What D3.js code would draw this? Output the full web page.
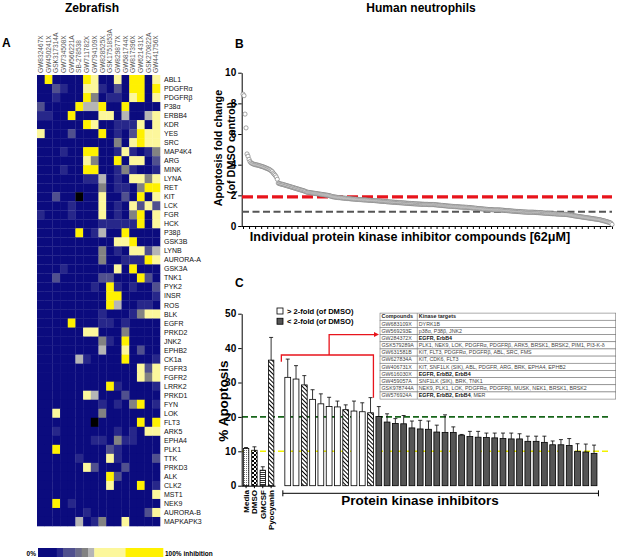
<!DOCTYPE html>
<html>
<head>
<meta charset="utf-8">
<script src="https://cdn.jsdelivr.net/npm/d3@7"></script>
<style>
  body { margin: 0; background: #fff; }
  svg text { font-family: "Liberation Sans", Arial, sans-serif; }
</style>
</head>
<body>
<svg id="fig" width="617" height="558"></svg>
<script>
// ---------- panel A : zebrafish screen ----------
const compounds = ["GW832467X","GW450241X","GSK317314A","GW734508X","GW566221A","SB-278538",
  "GW711782X","GW794109X","GW828525X","GSK1751853A","GW829877X","GW581744X","GW817396X",
  "GW621431X","GSK270822A","GW441756X"];
const kinases = ["ABL1","PDGFRα","PDGFRβ","P38α","ERBB4","KDR","YES","SRC","MAP4K4","ARG","MINK",
  "LYNA","RET","KIT","LCK","FGR","HCK","P38β","GSK3B","LYNB","AURORA-A","GSK3A","TNK1","PYK2",
  "INSR","ROS","BLK","EGFR","PRKD2","JNK2","EPHB2","CK1a","FGFR3","FGFR2","LRRK2","PRKD1","FYN",
  "LOK","FLT3","ARK5","EPHA4","PLK1","TTK","PRKD3","ALK","CLK2","MST1","NEK9","AURORA-B","MAPKAPK3"];
// one string per kinase, one char per compound: inhibition in tenths, x = no value
const inhibition = [
  "0800008600608806","0021006610208808","0010008401106806","2000085580080000","1100800066050056",
  "0000008600111606","6000200080102866","0000000000406866","0001008800161014","0000006400806602",
  "0001008800141001","0000001150106646","0000000040110488","00200x0060020806","0000100060106262",
  "1000100060104806","0000000011111806","0000080150080000","0000000000668000","0000000040106625",
  "0000000040011186","0001000000608000","0020000022000820","0000000108101002","0000000008800001",
  "0000000008500110","0000000010001466","0000800011010000","0000006600040000","0000000041080000",
  "0000000050060200","0000051000080001","0000000000000626","0000000000000646","0000000008100001",
  "0000006500020000","0000000010104801","0060000040000000","0000000x00000808","0010000000101066",
  "0000000110411000","0080000002100000","0000010006100002","0000006200020000","0000000008200000",
  "0000000006000801","0000000000000006","0080100000000000","0000001000000026","0000050140060000"];
const legendStops = [0, 15, 20, 30, 35, 40, 45, 70, 100];
const legendLevels = ["0","1","2","3","4","5","6","8"];

// ---------- panel B : neutrophil screen ----------
const foldChange = [
  8.6,8.5,7.3,6.4,4.7,4.55,4.35,4.2,4.12,4.08,
  4.05,4.02,4.0,3.99,3.98,3.96,3.94,3.92,3.9,3.88,
  3.86,3.83,3.8,3.78,3.75,3.72,3.69,3.65,3.6,3.55,
  3.45,3.38,3.3,3.2,3.05,2.8,2.77,2.75,2.73,2.72,
  2.7,2.68,2.66,2.64,2.62,2.6,2.58,2.56,2.54,2.52,
  2.5,2.48,2.46,2.44,2.42,2.4,2.38,2.36,2.34,2.32,
  2.3,2.28,2.25,2.22,2.2,2.19,2.18,2.17,2.16,2.15,
  2.14,2.13,2.12,2.11,2.1,2.09,2.08,2.07,2.06,2.05,
  2.04,2.03,2.02,2.01,2.0,1.99,1.97,1.95,1.93,1.91,
  1.9,1.89,1.88,1.87,1.86,1.85,1.85,1.84,1.83,1.83,
  1.82,1.81,1.81,1.8,1.79,1.79,1.78,1.77,1.77,1.76,
  1.76,1.75,1.75,1.74,1.74,1.73,1.72,1.72,1.71,1.71,
  1.7,1.7,1.7,1.69,1.69,1.68,1.68,1.67,1.67,1.66,
  1.66,1.65,1.65,1.64,1.64,1.63,1.62,1.62,1.61,1.61,
  1.6,1.6,1.59,1.58,1.58,1.57,1.57,1.56,1.56,1.55,
  1.55,1.54,1.54,1.53,1.53,1.52,1.52,1.51,1.51,1.5,
  1.5,1.49,1.49,1.48,1.48,1.47,1.47,1.46,1.46,1.45,
  1.45,1.44,1.44,1.44,1.43,1.43,1.43,1.42,1.42,1.42,
  1.41,1.41,1.41,1.41,1.4,1.4,1.4,1.4,1.4,1.4,
  1.39,1.38,1.38,1.37,1.36,1.36,1.35,1.34,1.34,1.33,
  1.32,1.32,1.31,1.3,1.3,1.29,1.29,1.28,1.28,1.27,
  1.27,1.26,1.26,1.25,1.25,1.24,1.24,1.23,1.23,1.23,
  1.22,1.22,1.22,1.21,1.2,1.2,1.19,1.18,1.18,1.17,
  1.16,1.16,1.15,1.14,1.14,1.13,1.12,1.12,1.11,1.1,
  1.1,1.09,1.09,1.08,1.08,1.07,1.07,1.06,1.06,1.05,
  1.05,1.05,1.05,1.05,1.05,1.04,1.04,1.03,1.03,1.02,
  1.01,1.01,1.0,1.0,0.99,0.99,0.98,0.97,0.97,0.96,
  0.96,0.95,0.95,0.94,0.94,0.93,0.93,0.92,0.92,0.91,
  0.91,0.91,0.9,0.9,0.9,0.9,0.9,0.9,0.9,0.89,
  0.89,0.88,0.88,0.87,0.87,0.86,0.86,0.85,0.85,0.84,
  0.84,0.83,0.83,0.82,0.82,0.81,0.81,0.8,0.8,0.8,
  0.79,0.79,0.78,0.78,0.78,0.77,0.77,0.77,0.76,0.76,
  0.76,0.75,0.74,0.73,0.72,0.71,0.7,0.69,0.67,0.66,
  0.65,0.64,0.63,0.62,0.61,0.6,0.59,0.58,0.57,0.56,
  0.55,0.54,0.53,0.52,0.51,0.5,0.49,0.48,0.47,0.46,
  0.45,0.44,0.43,0.42,0.41,0.39,0.37,0.35,0.34,0.32,
  0.3,0.28,0.26,0.24,0.22,0.18,0.1];
const foldCutoff = 1.9;
const foldBaseline = 0.93;

// ---------- panel C : % apoptosis ----------
const controls = ["Media","DMSO","GMCSF","Pyocyanin"];
const controlMean = [10.8, 10.3, 4.5, 36.5];
const controlErr = [0.3, 1.0, 1.0, 6.6];
const inhibitorMean = [31.5,31.0,29.3,25.1,23.8,23.0,22.9,22.1,21.7,21.5,21.2,
  20.1,18.5,18.1,18.0,16.8,16.5,16.4,15.6,15.5,15.5,14.7,14.3,14.1,14.0,13.9,13.7,
  13.6,13.6,12.9,12.9,12.6,11.9,11.9,11.7,10.0,9.8,9.4];
const inhibitorErr = [5.3,3.9,2.7,2.8,2.9,2.7,1.7,1.4,2.9,2.6,4.4,
  2.9,2.4,1.4,2.4,2.0,2.5,2.4,2.0,5.1,1.6,0.2,1.5,1.7,1.3,1.4,1.6,
  1.7,1.5,1.5,1.5,1.8,1.1,1.5,2.0,2.2,2.3,2.4];
const inhibitorKind = ["open","open","hatch","open","open","open","open","hatch","open","open","hatch",
  "dark","dark","dark","dark","dark","dark","dark","dark","dark","dark","dark","dark","dark","dark",
  "dark","dark","dark","dark","dark","dark","dark","dark","dark","dark","dark","dark","dark"];
const greenLine = 20;
const yellowLine = 10;
const tableCompounds = ["GW683109X","GW569293E","GW284372X","GSK579289A","GW631581B","GW627834A",
  "GW406731X","GW616030X","GW459057A","GSK978744A","GW576924A"];
// [bold part, plain part]
const tableTargets = [
  ["","DYRK1B"],["","p38α, P38β, JNK2"],["EGFR, ErbB4",""],
  ["","PLK1, NEK9, LOK, PDGFRα, PDGFRβ, ARK5, BRSK1, BRSK2, PIM1, PI3-K-δ"],
  ["","KIT, FLT3, PDGFRα, PDGFRβ, ABL, SRC, FMS"],["","KIT, CDK6, FLT3"],
  ["","KIT, SNF1LK (SIK), ABL, PDGFR, ARG, BRK, EPHA4, EPHB2"],["EGFR, ErbB2, ErbB4",""],
  ["","SNF1LK (SIK), BRK, TNK1"],["","NEK9, PLK1, LOK,  PDGFRα, PDGFRβ, MUSK, NEK1, BRSK1, BRSK2"],
  ["EGFR, ErbB2, ErbB4",", MER"]];
const legendC = ["> 2-fold (of DMSO)", "< 2-fold (of DMSO)"];

const heatColor = {"0":"#0b0b7e","1":"#27278a","2":"#50508e","3":"#6c6c88","4":"#828282",
  "5":"#b5b5b5","6":"#fcf79c","8":"#fff100","x":"#000000"};

const svg = d3.select("#fig");
svg.append("rect").attr("width", 617).attr("height", 558).attr("fill", "#fff");

// patterns
const defs = svg.append("defs");
const hatch = defs.append("pattern").attr("id", "hatch").attr("width", 3).attr("height", 3)
  .attr("patternUnits", "userSpaceOnUse").attr("patternTransform", "rotate(-45)");
hatch.append("rect").attr("width", 3).attr("height", 3).attr("fill", "#fff");
hatch.append("line").attr("x1", 0.5).attr("x2", 0.5).attr("y1", 0).attr("y2", 3)
  .attr("stroke", "#000").attr("stroke-width", 1);
const dots = defs.append("pattern").attr("id", "dots").attr("width", 2).attr("height", 2)
  .attr("patternUnits", "userSpaceOnUse");
dots.append("rect").attr("width", 2).attr("height", 2).attr("fill", "#fff");
dots.append("rect").attr("width", 1).attr("height", 1).attr("fill", "#777");
const checker = defs.append("pattern").attr("id", "checker").attr("width", 4).attr("height", 4)
  .attr("patternUnits", "userSpaceOnUse");
checker.append("rect").attr("width", 4).attr("height", 4).attr("fill", "#fff");
checker.append("rect").attr("width", 2).attr("height", 2).attr("fill", "#000");
checker.append("rect").attr("x", 2).attr("y", 2).attr("width", 2).attr("height", 2).attr("fill", "#000");
const hstripe = defs.append("pattern").attr("id", "hstripe").attr("width", 2).attr("height", 2)
  .attr("patternUnits", "userSpaceOnUse");
hstripe.append("rect").attr("width", 2).attr("height", 2).attr("fill", "#fff");
hstripe.append("rect").attr("width", 2).attr("height", 0.8).attr("fill", "#000");

// titles
svg.append("text").attr("x", 92).attr("y", 12).attr("text-anchor", "middle")
  .attr("font-size", 12).attr("font-weight", "bold").text("Zebrafish");
svg.append("text").attr("x", 421).attr("y", 12).attr("text-anchor", "middle")
  .attr("font-size", 12).attr("font-weight", "bold").text("Human neutrophils");
svg.append("text").attr("x", 2).attr("y", 47).attr("font-size", 12).attr("font-weight", "bold").text("A");
svg.append("text").attr("x", 235).attr("y", 48).attr("font-size", 12).attr("font-weight", "bold").text("B");
svg.append("text").attr("x", 235).attr("y", 287).attr("font-size", 12).attr("font-weight", "bold").text("C");

// ---------- heatmap ----------
const xA = d3.scaleBand().domain(compounds).range([37, 160]);
const yA = d3.scaleBand().domain(kinases).range([75, 526]);
const cells = [];
kinases.forEach((k, i) => {
  compounds.forEach((c, j) => cells.push({k, c, v: inhibition[i][j]}));
});
svg.append("g").selectAll("rect").data(cells).join("rect")
  .attr("x", d => xA(d.c)).attr("y", d => yA(d.k))
  .attr("width", xA.bandwidth() + 0.3).attr("height", yA.bandwidth() + 0.3)
  .attr("fill", d => heatColor[d.v]);
svg.append("g").selectAll("text").data(compounds).join("text")
  .attr("transform", d => `translate(${xA(d) + xA.bandwidth() / 2 + 2.2},73) rotate(-90)`)
  .attr("font-size", 6.6).attr("fill", "#555").text(d => d);
svg.append("g").selectAll("text").data(kinases).join("text")
  .attr("x", 164).attr("y", d => yA(d) + yA.bandwidth() / 2 + 2.5)
  .attr("font-size", 7).attr("fill", "#111").text(d => d);

// legend bar
const xLeg = d3.scaleLinear().domain([0, 100]).range([38, 163]);
svg.append("g").selectAll("rect").data(legendLevels).join("rect")
  .attr("x", (d, i) => xLeg(legendStops[i])).attr("y", 548)
  .attr("width", (d, i) => xLeg(legendStops[i + 1]) - xLeg(legendStops[i]) + 0.3)
  .attr("height", 9).attr("fill", d => heatColor[d]);
svg.append("text").attr("x", 36).attr("y", 555.5).attr("text-anchor", "end")
  .attr("font-size", 6.5).attr("font-weight", "bold").text("0%");
svg.append("text").attr("x", 165).attr("y", 555.5)
  .attr("font-size", 6.5).attr("font-weight", "bold").text("100% inhibition");

// ---------- panel B ----------
const xB = d3.scaleLinear().domain([0, foldChange.length - 1]).range([243, 612]);
const yB = d3.scaleLinear().domain([0, 10]).range([226, 72.7]);
const axB = svg.append("g").attr("transform", "translate(241.7,0)")
  .call(d3.axisLeft(yB).tickValues([0, 2, 4, 6, 8, 10]).tickSize(3.5).tickSizeOuter(0));
axB.selectAll("text").attr("font-size", 10).attr("font-weight", "bold").attr("font-family", null).attr("dx", 1);
const axBx = svg.append("g").attr("transform", "translate(0,226)")
  .call(d3.axisBottom(xB).tickValues(d3.range(0, foldChange.length, 6)).tickFormat("").tickSize(3).tickSizeOuter(0));
axBx.select(".domain").attr("d", "M241.7,0.5H613");
svg.append("line").attr("x1", 242).attr("x2", 612).attr("y1", yB(foldCutoff)).attr("y2", yB(foldCutoff))
  .attr("stroke", "#e8141c").attr("stroke-width", 3.3).attr("stroke-dasharray", "11,4");
svg.append("line").attr("x1", 242).attr("x2", 612).attr("y1", yB(foldBaseline)).attr("y2", yB(foldBaseline))
  .attr("stroke", "#555").attr("stroke-width", 1.8).attr("stroke-dasharray", "7,3.5");
svg.append("g").selectAll("circle").data(foldChange).join("circle")
  .attr("cx", (d, i) => xB(i)).attr("cy", d => yB(d)).attr("r", 2.1)
  .attr("fill", "#fff").attr("stroke", "#808080").attr("stroke-width", 0.7);
svg.append("text").attr("transform", "translate(222,148) rotate(-90)").attr("text-anchor", "middle")
  .attr("font-size", 10.8).attr("font-weight", "bold").text("Apoptosis fold change");
svg.append("text").attr("transform", "translate(235,148) rotate(-90)").attr("text-anchor", "middle")
  .attr("font-size", 10.8).attr("font-weight", "bold").text("(of DMSO control)");
svg.append("text").attr("x", 410).attr("y", 241).attr("text-anchor", "middle")
  .attr("font-size", 12.6).attr("font-weight", "bold").text("Individual protein kinase inhibitor compounds [62μM]");

// ---------- panel C ----------
const yC = d3.scaleLinear().domain([0, 50]).range([485.7, 313.7]);
const xCtl = d3.scaleBand().domain(controls).range([241.7, 275.5]).paddingInner(0.35).paddingOuter(0.2);
const xInh = d3.scaleBand().domain(d3.range(inhibitorMean.length)).range([283.6, 598.2])
  .paddingInner(0.3).paddingOuter(0.15);

// reference lines
svg.append("line").attr("x1", 242).attr("x2", 610).attr("y1", yC(greenLine)).attr("y2", yC(greenLine))
  .attr("stroke", "#17651a").attr("stroke-width", 1.6).attr("stroke-dasharray", "6,3");
svg.append("line").attr("x1", 242).attr("x2", 610).attr("y1", yC(yellowLine)).attr("y2", yC(yellowLine))
  .attr("stroke", "#f2f200").attr("stroke-width", 1.6).attr("stroke-dasharray", "6,3");

const ctlFill = ["url(#dots)", "url(#checker)", "url(#hstripe)", "url(#hatch)"];
const kindFill = {open: "#fff", hatch: "url(#hatch)", dark: "#555"};

function errBars(g, data, xs, bw) {
  g.selectAll("line.v").data(data).join("line").attr("class", "v")
    .attr("x1", d => xs(d.key) + bw / 2).attr("x2", d => xs(d.key) + bw / 2)
    .attr("y1", d => yC(d.m)).attr("y2", d => yC(d.m + d.e))
    .attr("stroke", "#000").attr("stroke-width", 0.8);
  g.selectAll("line.c").data(data).join("line").attr("class", "c")
    .attr("x1", d => xs(d.key) + bw / 2 - 2).attr("x2", d => xs(d.key) + bw / 2 + 2)
    .attr("y1", d => yC(d.m + d.e)).attr("y2", d => yC(d.m + d.e))
    .attr("stroke", "#000").attr("stroke-width", 0.8);
}

const ctlData = controls.map((c, i) => ({key: c, m: controlMean[i], e: controlErr[i], f: ctlFill[i]}));
const gCtl = svg.append("g");
errBars(gCtl, ctlData, xCtl, xCtl.bandwidth());
gCtl.selectAll("rect").data(ctlData).join("rect")
  .attr("x", d => xCtl(d.key)).attr("y", d => yC(d.m))
  .attr("width", xCtl.bandwidth()).attr("height", d => yC(0) - yC(d.m))
  .attr("fill", d => d.f).attr("stroke", "#000").attr("stroke-width", 0.8);

const inhData = inhibitorMean.map((m, i) => ({key: i, m, e: inhibitorErr[i], k: inhibitorKind[i]}));
const gInh = svg.append("g");
errBars(gInh, inhData, xInh, xInh.bandwidth());
gInh.selectAll("rect").data(inhData).join("rect")
  .attr("x", d => xInh(d.key)).attr("y", d => yC(d.m))
  .attr("width", xInh.bandwidth()).attr("height", d => yC(0) - yC(d.m))
  .attr("fill", d => kindFill[d.k]).attr("stroke", "#000").attr("stroke-width", 0.8);

// axes
const axC = svg.append("g").attr("transform", "translate(241.7,0)")
  .call(d3.axisLeft(yC).tickValues([0, 10, 20, 30, 40, 50]).tickSize(3.5).tickSizeOuter(0));
axC.selectAll("text").attr("font-size", 10).attr("font-weight", "bold").attr("font-family", null).attr("dx", 1);
const axCx = svg.append("g").attr("transform", `translate(0,${yC(0)})`)
  .call(d3.axisBottom(xCtl).tickSize(2.5).tickSizeOuter(0).tickFormat(""));
axCx.select(".domain").attr("d", "M241.7,0.5H275.5");
svg.append("g").selectAll("text").data(controls).join("text")
  .attr("transform", d => `translate(${xCtl(d) + xCtl.bandwidth() / 2 + 3},490) rotate(-90)`)
  .attr("text-anchor", "end").attr("font-size", 8).attr("font-weight", "bold").text(d => d);
svg.append("text").attr("transform", "translate(228,401) rotate(-90)").attr("text-anchor", "middle")
  .attr("font-size", 13.5).attr("font-weight", "bold").text("% Apoptosis");

// inhibitor bracket
const bx0 = xInh(0) - 2, bx1 = xInh(inhibitorMean.length - 1) + xInh.bandwidth() + 1.5;
svg.append("path").attr("d", `M${bx0},490.3V496.3M${bx0},493.3H${bx1}M${bx1},490.3V496.3`)
  .attr("fill", "none").attr("stroke", "#000").attr("stroke-width", 1);
svg.append("text").attr("x", 420).attr("y", 505).attr("text-anchor", "middle")
  .attr("font-size", 13.5).attr("font-weight", "bold").text("Protein kinase inhibitors");

// legend
const legY = d3.scaleBand().domain(legendC).range([306.5, 327]);
svg.append("g").selectAll("rect").data(legendC).join("rect")
  .attr("x", 277).attr("y", d => legY(d) + 1.5).attr("width", 6).attr("height", 6)
  .attr("fill", (d, i) => i ? "#555" : "#fff").attr("stroke", "#000").attr("stroke-width", 0.8);
svg.append("g").selectAll("text").data(legendC).join("text")
  .attr("x", 287).attr("y", d => legY(d) + 7.5).attr("font-size", 7.6).attr("font-weight", "bold").text(d => d);

// table
const tRow = d3.scaleBand().domain(d3.range(tableCompounds.length + 1)).range([313.1, 399.1]);
const tX0 = 380, tX1 = 417.3, tX2 = 615.7;
const gT = svg.append("g");
gT.selectAll("rect").data(tRow.domain()).join("rect")
  .attr("x", tX0).attr("y", d => tRow(d)).attr("width", tX2 - tX0).attr("height", tRow.bandwidth())
  .attr("fill", "#fff").attr("stroke", "#777").attr("stroke-width", 0.6);
gT.append("line").attr("x1", tX1).attr("x2", tX1).attr("y1", tRow(0)).attr("y2", tRow(tableCompounds.length) + tRow.bandwidth())
  .attr("stroke", "#777").attr("stroke-width", 0.6);
gT.append("text").attr("x", tX0 + 1.5).attr("y", tRow(0) + 5.3).attr("font-size", 5.4).attr("font-weight", "bold").attr("fill", "#222").text("Compounds");
gT.append("text").attr("x", tX1 + 1.5).attr("y", tRow(0) + 5.3).attr("font-size", 5.4).attr("font-weight", "bold").attr("fill", "#222").text("Kinase targets");
gT.selectAll("text.c").data(tableCompounds).join("text").attr("class", "c")
  .attr("x", tX0 + 1.5).attr("y", (d, i) => tRow(i + 1) + 5.3).attr("font-size", 5.3).attr("fill", "#444").text(d => d);
const tt = gT.selectAll("text.t").data(tableTargets).join("text").attr("class", "t")
  .attr("x", tX1 + 1.5).attr("y", (d, i) => tRow(i + 1) + 5.3).attr("font-size", 5.3).attr("fill", "#444");
tt.append("tspan").attr("font-weight", "bold").attr("fill", "#111").text(d => d[0]);
tt.append("tspan").text(d => d[1]);

// red bracket + arrow to table
const rL = xInh(0) - 3.5, rR = xInh(10) + xInh.bandwidth(), rM = xInh(5) + xInh.bandwidth() / 2;
const rTop = yC(38), rArrow = tRow(3);
svg.append("path")
  .attr("d", `M${rL},${yC(36)}V${rTop}H${rR}V${yC(inhibitorMean[10] + inhibitorErr[10])}M${rM},${rTop}V${rArrow}H${tX0 - 5}`)
  .attr("fill", "none").attr("stroke", "#e8141c").attr("stroke-width", 1.3);
svg.append("path").attr("d", `M${tX0 - 1},${rArrow}l-5,-2.5v5z`).attr("fill", "#e8141c");
</script>
</body>
</html>
